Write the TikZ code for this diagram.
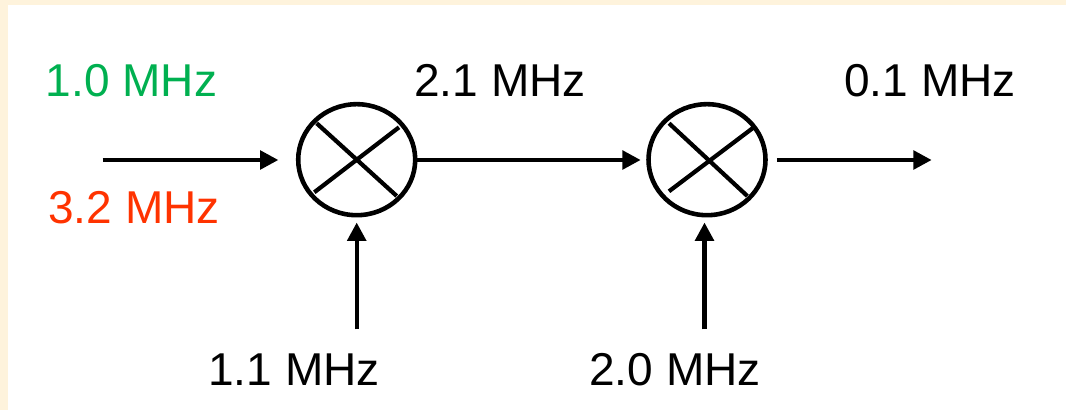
\documentclass[tikz,border=0pt]{standalone}
\usepackage{fontspec}
\setmainfont{Liberation Sans}
\usetikzlibrary{positioning,calc,arrows.meta,shapes.geometric}
\definecolor{mixpaper}{RGB}{254,243,220}
\definecolor{mixgreen}{RGB}{0,176,80}
\definecolor{mixred}{RGB}{255,51,0}
\tikzset{
  mixer/.style={draw,ellipse,line width=1.3pt,inner sep=0pt,minimum width=1.17cm,minimum height=1.11cm},
  freq/.style={anchor=base,inner sep=0pt,font=\fontsize{13.1pt}{15pt}\selectfont},
  sig/.style={line width=1.25pt,-{Triangle[length=5.2pt,width=5.2pt]}},
  crossline/.style={line width=1.2pt}
}
\begin{document}
\begin{tikzpicture}
\useasboundingbox (0,0) rectangle (10.66,4.10);
\fill[mixpaper] (0,0) rectangle (10.66,4.10);
\fill[white] (0.08,0) rectangle (10.66,4.05);
\node[mixer] (mixa) at (3.567,2.503) {};
\node[mixer] (mixb) at (7.07,2.503) {};
% crosses inside the mixers
\draw[crossline] ($(mixa)+(-0.40,0.364)$) -- ($(mixa)+(0.40,-0.363)$);
\draw[crossline] ($(mixa)+(-0.424,-0.326)$) -- ($(mixa)+(0.423,0.324)$);
\draw[crossline] ($(mixb)+(-0.38,0.364)$) -- ($(mixb)+(0.403,-0.363)$);
\draw[crossline] ($(mixb)+(-0.38,-0.316)$) -- ($(mixb)+(0.463,0.32)$);
\coordinate (inp) at (1.027,2.50);
\coordinate (outp) at (9.317,2.50);
\coordinate (loa) at (3.567,0.807);
\coordinate (lob) at (7.045,0.807);
\draw[sig,shorten >=0.175cm] (inp) -- (mixa.west |- inp);
\draw[sig,shorten >=0.055cm] (mixa.east |- inp) -- (mixb.west |- inp);
\draw[sig,shorten <=0.09cm] (mixb.east |- outp) -- (outp);
\draw[sig,shorten >=0.05cm] (loa) -- (loa |- mixa.south);
\draw[sig,shorten >=0.05cm] (lob) -- (lob |- mixb.south);
\node[freq,mixgreen] (fa) at (1.315,3.13) {1.0 MHz};
\node[freq,mixred] (fb) at (1.34,1.87) {3.2 MHz};
\node[freq] (fc) at (5.00,3.13) {2.1 MHz};
\node[freq] (fd) at (9.30,3.13) {0.1 MHz};
\node[freq] (fe) at (2.94,0.25) {1.1 MHz};
\node[freq] (ff) at (6.75,0.25) {2.0 MHz};
\end{tikzpicture}
\end{document}
